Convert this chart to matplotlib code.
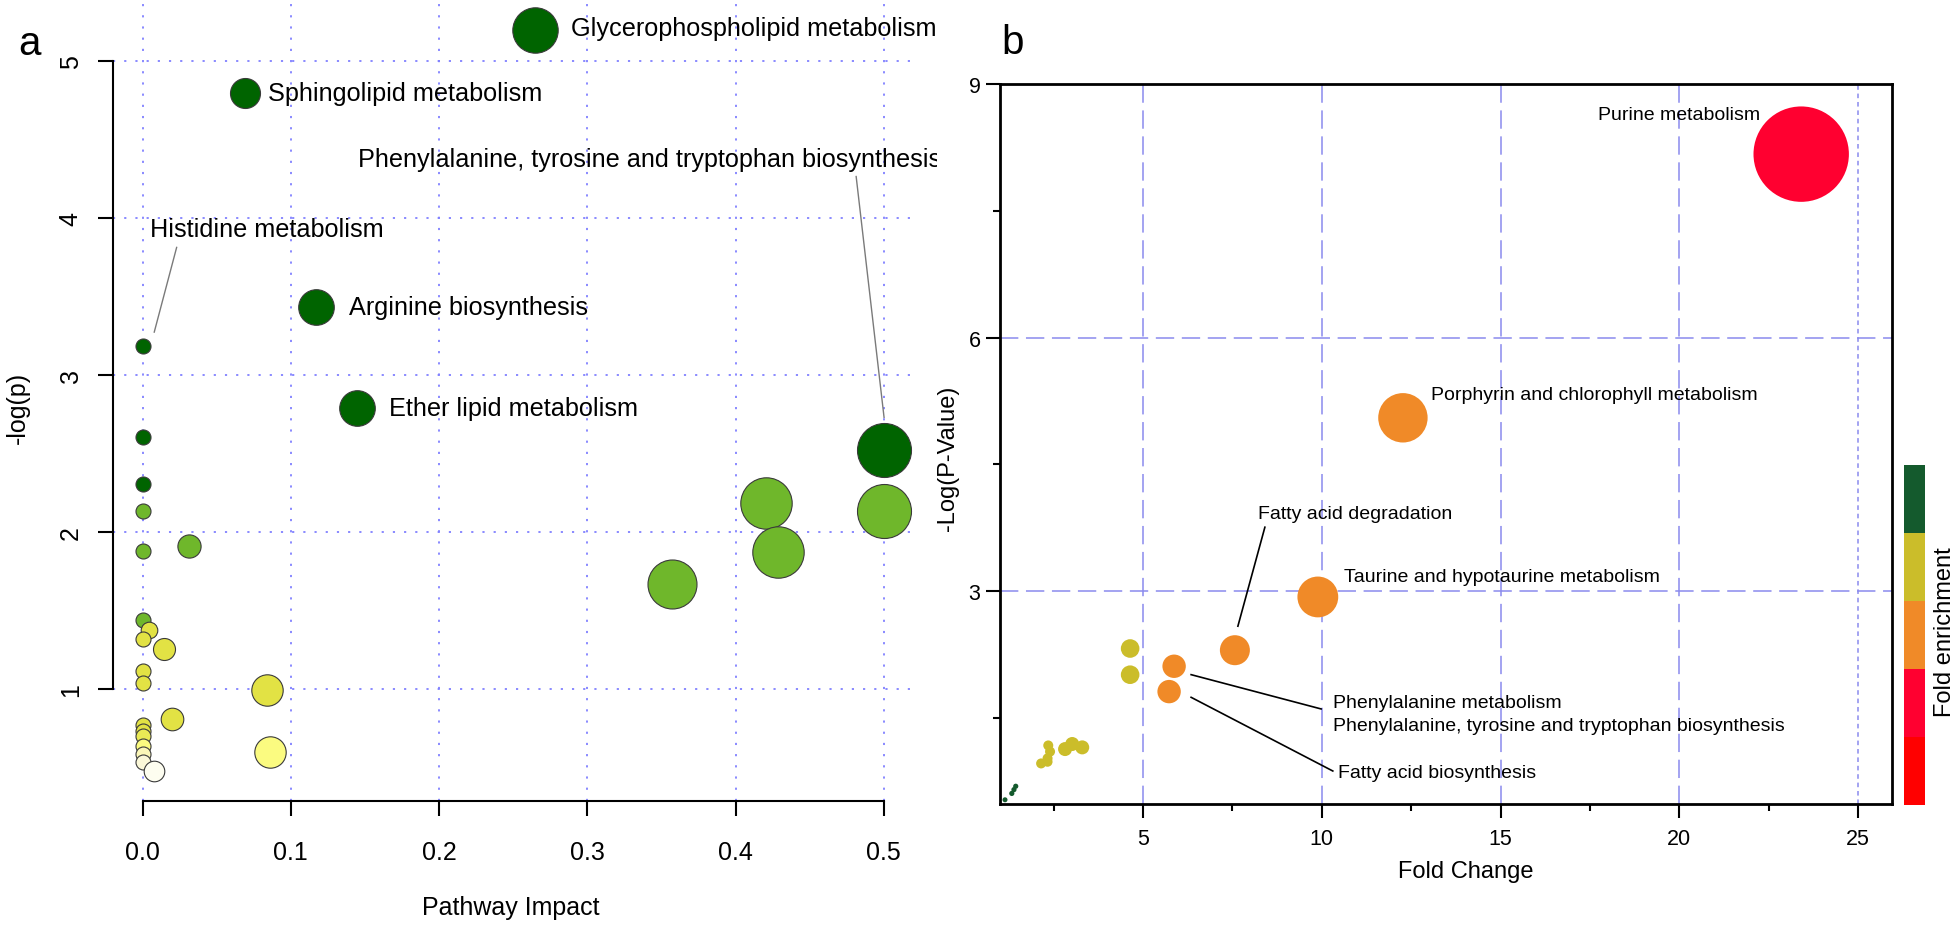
import matplotlib
matplotlib.use("Agg")
import matplotlib.pyplot as plt
import numpy as np
from matplotlib.colors import ListedColormap
from matplotlib.transforms import Bbox, TransformedBbox

plt.rcParams['font.family'] = ['Liberation Sans', 'DejaVu Sans']

# ---------------- Panel a data ----------------
impact = [0.2645, 0.069, 0.117, 0.1446, 0.5, 0.0, 0.0, 0.0, 0.0, 0.0,
          0.031, 0.5, 0.4207, 0.4285, 0.3574, 0.0, 0.0045, 0.0, 0.0144, 0.0,
          0.0, 0.0841, 0.0198, 0.0, 0.0, 0.0, 0.0, 0.0, 0.0, 0.0861, 0.0076]
neglogp = [5.196, 4.794, 3.433, 2.786, 2.522, 3.181, 2.604, 2.307, 2.135, 1.876,
           1.912, 2.134, 2.186, 1.874, 1.670, 1.441, 1.376, 1.316, 1.257, 1.115,
           1.036, 0.996, 0.811, 0.771, 0.735, 0.703, 0.639, 0.586, 0.533, 0.597, 0.476]
bubble_a = [22.7, 15, 17.8, 17.8, 27, 7.5, 7.5, 7.5, 7.5, 7.5,
            11.6, 27, 25.7, 25.7, 24.5, 7.5, 8.3, 7.5, 11, 7.5,
            7.5, 15.7, 11.3, 7.5, 7.5, 7.5, 7.5, 7.5, 7.5, 15.7, 10.3]
level_a = [0, 0, 0, 0, 0, 0, 0, 0, 1, 1,
           1, 1, 1, 1, 1, 1, 2, 2, 2, 2,
           2, 2, 2, 2, 2, 3, 4, 5, 6, 4, 7]
palette_a = ['#006400', '#6fb72b', '#e2e244', '#eaea55', '#fbfb80', '#fbf7b8', '#fbf8d8', '#fdfdf0']

xticks_a = [0.0, 0.1, 0.2, 0.3, 0.4, 0.5]
xticklabels_a = ['0.0', '0.1', '0.2', '0.3', '0.4', '0.5']
yticks_a = [1, 2, 3, 4, 5]

# labels: (index, text, dx, dy)  offsets in pixels
labels_a = [(0, 'Glycerophospholipid metabolism', 36, 2),
            (1, 'Sphingolipid metabolism', 23, 0),
            (2, 'Arginine biosynthesis', 33, 0),
            (3, 'Ether lipid metabolism', 32.5, 0),
            (5, 'Histidine metabolism', 7, 117),
            (4, 'Phenylalanine, tyrosine and tryptophan biosynthesis', -525.5, 291)]
leaders_a = [(5, 11.6, 14.3, 34, 99),
             (4, 0.3, 32.6, -27.6, 273.4)]

# ---------------- Panel b data ----------------
fold_change = [1.14, 1.33, 1.39, 1.44,
               2.35, 2.40, 2.33, 2.33, 2.15, 2.82, 3.02, 3.30,
               4.64, 4.64, 5.73, 5.87, 7.57, 9.89, 12.27, 23.41]
neglogp_b = [0.53, 0.605, 0.65, 0.69,
             1.173, 1.10, 1.02, 0.98, 0.96, 1.13, 1.19, 1.15,
             2.32, 2.01, 1.81, 2.11, 2.30, 2.93, 5.05, 8.17]
bubble_b = [2.5, 2.6, 2.6, 2.6,
            5, 5, 5, 5, 5, 7, 7, 7,
            9.3, 9.3, 11.7, 11.7, 15, 20.4, 24.7, 47.7]
enrich_level = [0, 0, 0, 0,
                1, 1, 1, 1, 1, 1, 1, 1,
                1, 1, 2, 2, 2, 2, 2, 3]
palette_b = ['#145a2d', '#cbbd2a', '#f08a28', '#ff0030', '#ff0000']

xticks_b = [5, 10, 15, 20, 25]
yticks_b = [3, 6, 9]

labels_b = [(19, 'Purine metabolism', -41, 40, 'right'),
            (18, 'Porphyrin and chlorophyll metabolism', 28.4, 23.7, 'left'),
            (17, 'Taurine and hypotaurine metabolism', 26, 20, 'left'),
            (16, 'Fatty acid degradation', 23, 136.7, 'left'),
            (15, 'Phenylalanine metabolism', 158.6, -36.3, 'left'),
            (15, 'Phenylalanine, tyrosine and tryptophan biosynthesis', 158.6, -59.4, 'left'),
            (14, 'Fatty acid biosynthesis', 168.5, -81.3, 'left')]
leaders_b = [(16, 3, 24, 30, 123),
             (15, 17, -8.4, 147, -42.7),
             (14, 22, -5.7, 163.7, -79.4)]

# ---------------- Figure ----------------
W, H = 1958, 928
fig = plt.figure(figsize=(W / 100, H / 100), dpi=100)


def px_rect(l, r, t, b):
    return [l / W, 1 - b / H, (r - l) / W, (b - t) / H]


def area(rpx):
    return (2 * rpx * 0.72) ** 2


def offset_data(ax, x, y, dx, dy):
    p = ax.transData.transform((x, y)) + np.array([dx, dy])
    return ax.transData.inverted().transform(p)


# ---- Panel a ----
ax1 = fig.add_axes(px_rect(113, 913.4, 1.2, 802))
ax1.set_xlim(-0.02, 0.52)
ax1.set_ylim(0.287, 5.385)
for s in ['top', 'right']:
    ax1.spines[s].set_visible(False)
ax1.spines['left'].set_bounds(1, 5)
ax1.spines['bottom'].set_bounds(0, 0.5)
for s in ['left', 'bottom']:
    ax1.spines[s].set_linewidth(1.5)
ax1.set_xticks(xticks_a)
ax1.set_xticklabels(xticklabels_a)
ax1.set_yticks(yticks_a)
ax1.tick_params(axis='both', direction='out', length=10.8, width=1.5, labelsize=18)
ax1.tick_params(axis='x', pad=17)
ax1.tick_params(axis='y', pad=11, labelrotation=90)
for t in ax1.get_yticklabels():
    t.set_va('center')
for gx in xticks_a:
    ax1.axvline(gx, color='#8080ff', lw=1.3, ls=(0, (1.2, 5)), zorder=0)
for gy in yticks_a:
    ax1.axhline(gy, color='#8080ff', lw=1.3, ls=(0, (1.2, 5)), zorder=0)
for i in range(len(impact)):
    ax1.scatter(impact[i], neglogp[i], s=area(bubble_a[i]), color=palette_a[level_a[i]],
                edgecolor='#3a3a3a', linewidth=0.8, zorder=3, clip_on=False)

clipbox = TransformedBbox(Bbox([[0, 0], [937 / W, 1]]), fig.transFigure)
for idx, txt, dx, dy in labels_a:
    t = ax1.annotate(txt, xy=(impact[idx], neglogp[idx]), xytext=(dx, dy),
                     textcoords='offset pixels', ha='left', va='center', fontsize=18.15,
                     annotation_clip=False, zorder=5)
    t.set_clip_on(True)
    t.set_clip_box(clipbox)
for idx, dx0, dy0, dx1, dy1 in leaders_a:
    p0 = offset_data(ax1, impact[idx], neglogp[idx], dx0, dy0)
    p1 = offset_data(ax1, impact[idx], neglogp[idx], dx1, dy1)
    ax1.plot([p0[0], p1[0]], [p0[1], p1[1]], color='#7a7a7a', lw=1.0, zorder=4, clip_on=False)

fig.text(511 / W, 1 - 908 / H, 'Pathway Impact', ha='center', va='center', fontsize=18)
fig.text(18 / W, 1 - 408 / H, '-log(p)', ha='center', va='center', rotation=90, fontsize=18)
fig.text(30 / W, 1 - 44 / H, 'a', ha='center', va='center', fontsize=29)

# ---- Panel b ----
ax2 = fig.add_axes(px_rect(1000, 1892, 85, 805))
ax2.set_xlim(1.0, 25.95)
ax2.set_ylim(0.48, 9.0)
for s in ax2.spines.values():
    s.set_linewidth(2.0)
ax2.set_xticks(xticks_b)
ax2.set_yticks(yticks_b)
ax2.set_xticks([2.5, 7.5, 12.5, 17.5, 22.5], minor=True)
ax2.set_yticks([1.5, 4.5, 7.5], minor=True)
ax2.tick_params(axis='both', which='major', direction='out', length=10, width=1.5, labelsize=15.5)
ax2.tick_params(axis='both', which='minor', direction='out', length=5, width=1.5)
ax2.tick_params(axis='x', which='major', pad=7)
ax2.tick_params(axis='y', which='major', pad=4)
for gx in xticks_b[:-1]:
    ax2.axvline(gx, color='#8a8aee', lw=1.1, ls=(0, (12, 5)), zorder=0)
ax2.axvline(xticks_b[-1], color='#8a8aee', lw=1.1, ls=(0, (3, 2.5)), zorder=0)
for gy in yticks_b[:-1]:
    ax2.axhline(gy, color='#8a8aee', lw=1.1, ls=(0, (12, 5)), zorder=0)
for i in range(len(fold_change)):
    ax2.scatter(fold_change[i], neglogp_b[i], s=area(bubble_b[i]), color=palette_b[enrich_level[i]],
                edgecolor='none', zorder=3, clip_on=False)
for idx, txt, dx, dy, ha in labels_b:
    ax2.annotate(txt, xy=(fold_change[idx], neglogp_b[idx]), xytext=(dx, dy),
                 textcoords='offset pixels', ha=ha, va='center', fontsize=14, zorder=5)
for idx, dx0, dy0, dx1, dy1 in leaders_b:
    p0 = offset_data(ax2, fold_change[idx], neglogp_b[idx], dx0, dy0)
    p1 = offset_data(ax2, fold_change[idx], neglogp_b[idx], dx1, dy1)
    ax2.plot([p0[0], p1[0]], [p0[1], p1[1]], color='black', lw=1.2, zorder=4)

fig.text(1466 / W, 1 - 872 / H, 'Fold Change', ha='center', va='center', fontsize=17)
fig.text(948 / W, 1 - 458 / H, '-Log(P-Value)', ha='center', va='center', rotation=90, fontsize=17)
fig.text(1013 / W, 1 - 43 / H, 'b', ha='center', va='center', fontsize=29)

# ---- Colour bar (fold enrichment) ----
cax = fig.add_axes(px_rect(1904, 1925, 466, 806))
cmap = ListedColormap(palette_b[::-1])
cax.imshow(np.arange(len(palette_b))[::-1].reshape(-1, 1), cmap=cmap, aspect='auto',
           interpolation='nearest')
cax.set_xticks([])
cax.set_yticks([])
for s in cax.spines.values():
    s.set_visible(False)
fig.text(1945 / W, 1 - 632 / H, 'Fold enrichment', ha='center', va='center', rotation=90, fontsize=17)

fig.savefig('out.png', dpi=100)
